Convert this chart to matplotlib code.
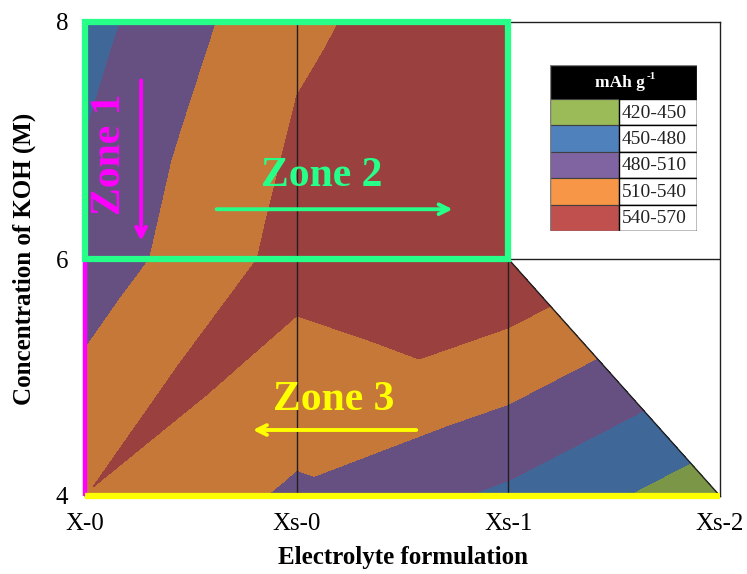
import numpy as np
import matplotlib
matplotlib.use('Agg')
import matplotlib.pyplot as plt
import matplotlib.tri as mtri
from matplotlib.patches import Rectangle
from matplotlib.colors import to_rgb

# ---------------- data ----------------
categories = ['X-0', 'Xs-0', 'Xs-1', 'Xs-2']
koh_conc = [4, 6, 8]
# specific capacity (mAh g-1) at the grid nodes (columns follow categories)
cap_koh4 = [539.5, 505, 474, 431]
cap_koh6 = [492, 551, 567, np.nan]
cap_koh8 = [469, 535, 560, np.nan]
# capacity estimated at the centre of each complete cell (KOH 4-6 and 6-8)
centre_cap_koh4_6 = [546, 535]
centre_cap_koh6_8 = [514, 555]
levels = [420, 450, 480, 510, 540, 570]
range_labels = ['420-450', '450-480', '480-510', '510-540', '540-570']
legend_colors = ['#9BBB59', '#4F81BD', '#8064A2', '#F79646', '#C0504D']

SERIF = ['Liberation Serif', 'DejaVu Serif']
shade = 0.8
plot_colors = [tuple(shade * c for c in to_rgb(col)) for col in legend_colors]

# ---------------- build triangulation (Excel-like cell subdivision) ----------------
grid = np.array([cap_koh4, cap_koh6, cap_koh8], dtype=float)
xs, ys, zs = [], [], []
idx = {}
for j, yv in enumerate(koh_conc):
    for i in range(len(categories)):
        if not np.isnan(grid[j, i]):
            idx[(i, j)] = len(xs)
            xs.append(i); ys.append(yv); zs.append(grid[j, i])
centres = [centre_cap_koh4_6, centre_cap_koh6_8]
tris = []
for j in range(len(koh_conc) - 1):
    for i in range(len(categories) - 1):
        corners = [(i, j), (i + 1, j), (i + 1, j + 1), (i, j + 1)]
        have = [c in idx for c in corners]
        if all(have) and i < len(centres[j]):
            c = len(xs)
            xs.append(i + 0.5); ys.append((koh_conc[j] + koh_conc[j + 1]) / 2)
            zs.append(centres[j][i])
            for k in range(4):
                tris.append([idx[corners[k]], idx[corners[(k + 1) % 4]], c])
        elif sum(have) == 3:
            tris.append([idx[cc] for cc, h in zip(corners, have) if h])
triang = mtri.Triangulation(np.array(xs, float), np.array(ys, float), np.array(tris))

# ---------------- figure ----------------
W, H = 747, 574
fig = plt.figure(figsize=(W / 100, H / 100), dpi=100)
ax = fig.add_axes([85 / W, 78 / H, 635 / W, 474 / H])
ax.set_xlim(0, len(categories) - 1)
ax.set_ylim(koh_conc[0], koh_conc[-1])

ax.tricontourf(triang, zs, levels=levels, colors=plot_colors, zorder=1)

# grid lines
for i in range(1, len(categories) - 1):
    ax.axvline(i, color='#202020', lw=1.0, zorder=3)
ax.axhline(koh_conc[1], color='#202020', lw=1.0, zorder=3)
# border of the data domain on the right
ax.plot([2, 3], [koh_conc[1], koh_conc[0]], color='#202020', lw=1.0, zorder=3)

for s in ax.spines.values():
    s.set_color('#202020'); s.set_linewidth(1.0)

ax.set_xticks(range(len(categories)))
ax.set_xticklabels(categories)
ax.set_yticks(koh_conc)
ax.set_yticklabels([str(v) for v in koh_conc])
ax.tick_params(length=0, labelsize=18, pad=12)
for lab in ax.get_xticklabels() + ax.get_yticklabels():
    lab.set_family(SERIF)
ax.set_xlabel('Electrolyte formulation', fontsize=18, fontweight='bold', family=SERIF, labelpad=8)
ax.set_ylabel('Concentration of KOH (M)', fontsize=18, fontweight='bold', family=SERIF, labelpad=14)

# zone annotations
MAG, YEL, GRN = '#FF00FF', '#FFFF00', '#26FF88'
ax.plot([0, 0], [koh_conc[0], koh_conc[-1]], color=MAG, lw=3.2, clip_on=False, zorder=5,
        solid_capstyle='butt')
ax.plot([0, len(categories) - 1], [koh_conc[0], koh_conc[0]], color=YEL, lw=4.5, clip_on=False,
        zorder=6, solid_capstyle='butt')
ax.add_patch(Rectangle((0, koh_conc[1]), 2, koh_conc[2] - koh_conc[1], fill=False, ec=GRN,
                       lw=4.5, zorder=7, clip_on=False))

ax.text(0.118, 6.88, 'Zone 1', rotation=90, color=MAG, fontsize=30, fontweight='bold',
        family=SERIF, ha='center', va='center', zorder=8)
ax.annotate('', xy=(0.265, 6.13), xytext=(0.265, 7.53),
            arrowprops=dict(arrowstyle='->,head_length=0.7,head_width=0.35', color=MAG, lw=2.8),
            zorder=8)
ax.text(1.12, 6.62, 'Zone 2', color=GRN, fontsize=30, fontweight='bold', family=SERIF,
        ha='center', va='baseline', zorder=8)
ax.annotate('', xy=(1.75, 6.42), xytext=(0.609, 6.42),
            arrowprops=dict(arrowstyle='->,head_length=0.7,head_width=0.35', color=GRN, lw=2.8),
            zorder=8)
ax.text(1.176, 4.726, 'Zone 3', color=YEL, fontsize=30, fontweight='bold', family=SERIF,
        ha='center', va='baseline', zorder=8)
ax.annotate('', xy=(0.78, 4.557), xytext=(1.578, 4.557),
            arrowprops=dict(arrowstyle='->,head_length=0.7,head_width=0.35', color=YEL, lw=2.8),
            zorder=8)

# ---------------- legend table ----------------
lx0, ly_top, lw_, lh = 550, 65, 147, 166
lax = fig.add_axes([lx0 / W, (H - ly_top - lh) / H, lw_ / W, lh / H])
lax.set_xlim(0, lw_); lax.set_ylim(lh, 0); lax.axis('off')
head_h = 34
row_h = (lh - head_h) / len(range_labels)
sw_w = 69
lax.add_patch(Rectangle((0, 0), lw_, head_h, fc='black', ec='black', lw=1))
lax.text(lw_ / 2 - 4, head_h / 2 + 1, 'mAh g', color='white', fontsize=12.5, fontweight='bold',
         family=SERIF, ha='center', va='center')
lax.text(lw_ / 2 + 23, head_h / 2 - 6, '-1', color='white', fontsize=8, fontweight='bold',
         family=SERIF, ha='left', va='center')
for k, (lab, col) in enumerate(zip(range_labels, legend_colors)):
    y0 = head_h + k * row_h
    lax.add_patch(Rectangle((0, y0), sw_w, row_h, fc=col, ec='#404040', lw=0.8))
    lax.add_patch(Rectangle((sw_w, y0), lw_ - sw_w, row_h, fc='white', ec='black', lw=1.0))
    lax.text(sw_w + 3, y0 + row_h / 2 + 1, lab, fontsize=14, family=SERIF, ha='left', va='center',
             color='#222222')
lax.add_patch(Rectangle((0, 0), lw_, lh, fill=False, ec='#808080', lw=1.0))

fig.savefig('out.png', dpi=100)
